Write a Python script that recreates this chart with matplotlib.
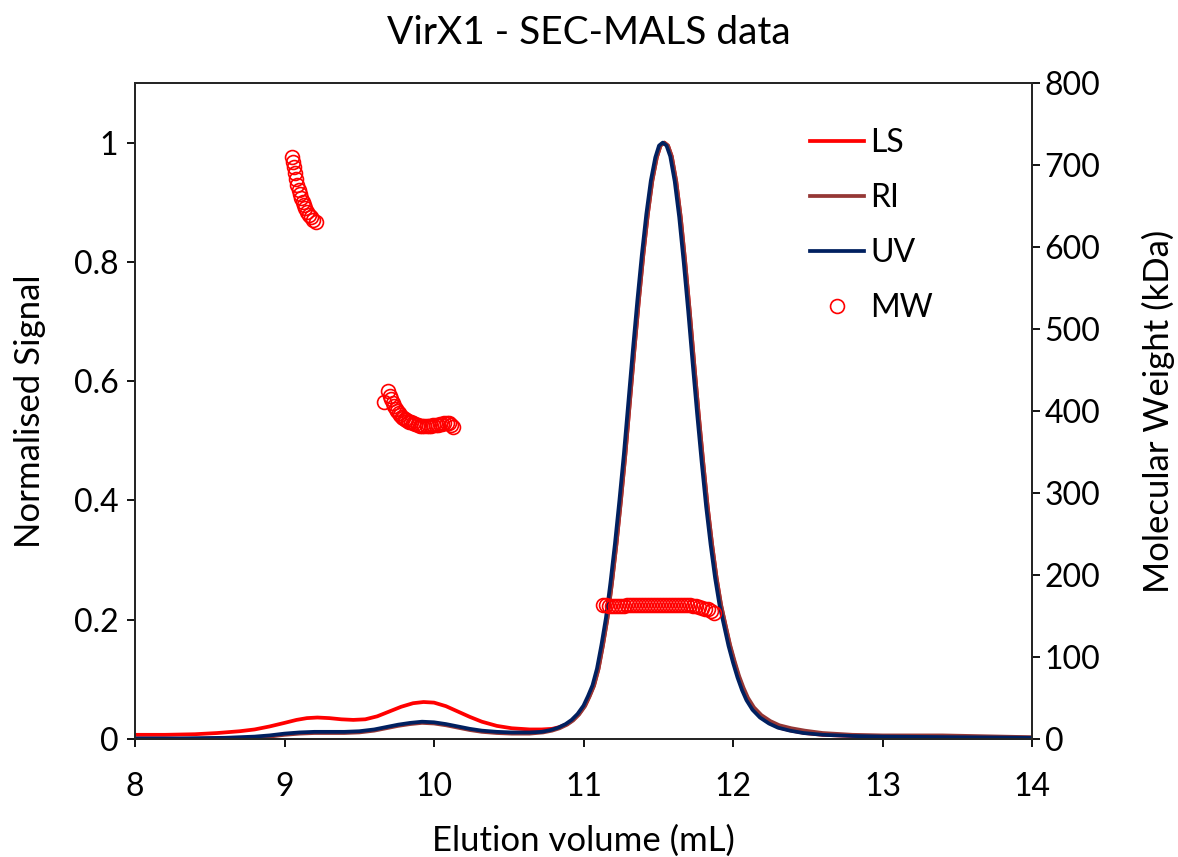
import matplotlib
matplotlib.use('Agg')
import matplotlib.pyplot as plt
from matplotlib.ticker import FuncFormatter

plt.rcParams['font.family'] = ['Lato', 'DejaVu Sans']

# %% data
# UV trace (normalised)
uv_x = [8.0, 8.3, 8.6, 8.8, 8.9, 9.0, 9.1, 9.2, 9.3, 9.4, 9.5, 9.6, 9.68, 9.76, 9.84,
        9.92, 10.0, 10.08, 10.16, 10.24, 10.32, 10.42, 10.52, 10.64, 10.72, 10.78,
        10.83, 10.88, 10.92, 10.96, 11.0, 11.03, 11.06, 11.09, 11.12, 11.15, 11.18,
        11.21, 11.24, 11.27, 11.3, 11.33, 11.36, 11.39, 11.42, 11.45, 11.48, 11.505,
        11.53, 11.555, 11.58, 11.61, 11.64, 11.67, 11.7, 11.73, 11.76, 11.79, 11.82,
        11.85, 11.88, 11.91, 11.94, 11.97, 12.0, 12.03, 12.06, 12.09, 12.13, 12.18,
        12.24, 12.3, 12.38, 12.47, 12.6, 12.8, 13.0, 13.5, 14.0]
uv_y = [0.001, 0.001, 0.002, 0.004, 0.006, 0.009, 0.011, 0.012, 0.012, 0.012, 0.013,
        0.016, 0.020, 0.024, 0.027, 0.029, 0.028, 0.025, 0.021, 0.017, 0.014, 0.012,
        0.011, 0.011, 0.012, 0.015, 0.019, 0.025, 0.032, 0.042, 0.056, 0.072, 0.090,
        0.118, 0.158, 0.203, 0.262, 0.327, 0.400, 0.478, 0.565, 0.652, 0.735, 0.812,
        0.880, 0.936, 0.975, 0.995, 1.0, 0.995, 0.977, 0.935, 0.875, 0.800, 0.718,
        0.630, 0.545, 0.465, 0.390, 0.326, 0.270, 0.224, 0.190, 0.156, 0.128, 0.103,
        0.082, 0.065, 0.049, 0.036, 0.026, 0.019, 0.014, 0.010, 0.007, 0.005, 0.004,
        0.003, 0.002]

# RI trace (normalised)
ri_x = [8.0, 8.3, 8.6, 8.8, 8.9, 9.0, 9.1, 9.2, 9.3, 9.4, 9.5, 9.6, 9.68, 9.76, 9.84,
        9.92, 10.0, 10.08, 10.16, 10.24, 10.32, 10.42, 10.52, 10.64, 10.73, 10.79,
        10.84, 10.89, 10.93, 10.97, 11.01, 11.04, 11.07, 11.1, 11.13, 11.16, 11.19,
        11.22, 11.25, 11.28, 11.31, 11.34, 11.37, 11.4, 11.43, 11.46, 11.49, 11.515,
        11.54, 11.565, 11.59, 11.62, 11.65, 11.68, 11.71, 11.74, 11.77, 11.8, 11.83,
        11.86, 11.89, 11.92, 11.95, 11.98, 12.01, 12.04, 12.07, 12.1, 12.14, 12.19,
        12.25, 12.31, 12.39, 12.48, 12.6, 12.8, 13.0, 13.2, 13.4, 13.6, 13.8, 14.0]
ri_y = [0.000, 0.000, 0.001, 0.002, 0.004, 0.007, 0.009, 0.010, 0.010, 0.010, 0.011,
        0.014, 0.018, 0.022, 0.025, 0.027, 0.026, 0.023, 0.019, 0.015, 0.012, 0.010,
        0.009, 0.009, 0.011, 0.014, 0.018, 0.024, 0.031, 0.041, 0.055, 0.071, 0.089,
        0.117, 0.157, 0.202, 0.261, 0.326, 0.399, 0.477, 0.565, 0.652, 0.735, 0.812,
        0.880, 0.936, 0.975, 0.995, 1.0, 0.995, 0.977, 0.935, 0.875, 0.800, 0.718,
        0.630, 0.545, 0.465, 0.390, 0.326, 0.270, 0.225, 0.191, 0.158, 0.131, 0.106,
        0.086, 0.069, 0.053, 0.040, 0.030, 0.023, 0.018, 0.014, 0.010, 0.007, 0.006,
        0.006, 0.006, 0.005, 0.004, 0.003]

# LS trace (normalised)
ls_x = [8.0, 8.2, 8.4, 8.55, 8.7, 8.8, 8.9, 9.0, 9.08, 9.15, 9.22, 9.3, 9.38, 9.46,
        9.54, 9.62, 9.7, 9.78, 9.86, 9.93, 10.0, 10.08, 10.16, 10.24, 10.32, 10.42,
        10.52, 10.64, 10.72, 10.79, 10.84, 10.89, 10.93, 10.97, 11.01, 11.04, 11.07,
        11.1, 11.13, 11.16, 11.19, 11.22, 11.25, 11.28, 11.31, 11.34, 11.37, 11.4,
        11.43, 11.46, 11.49, 11.515, 11.54, 11.565, 11.59, 11.62, 11.65, 11.68, 11.71,
        11.74, 11.77, 11.8, 11.83, 11.86, 11.89, 11.92, 11.95, 11.98, 12.01, 12.04,
        12.07, 12.1, 12.14, 12.19, 12.25, 12.31, 12.39, 12.48, 12.6, 12.8, 13.0, 13.5,
        14.0]
ls_y = [0.007, 0.007, 0.008, 0.010, 0.013, 0.016, 0.021, 0.027, 0.032, 0.035, 0.036,
        0.035, 0.033, 0.032, 0.033, 0.038, 0.046, 0.054, 0.060, 0.062, 0.061, 0.055,
        0.046, 0.037, 0.029, 0.022, 0.018, 0.016, 0.016, 0.017, 0.020, 0.025, 0.032,
        0.042, 0.056, 0.072, 0.090, 0.118, 0.158, 0.203, 0.262, 0.327, 0.400, 0.478,
        0.565, 0.652, 0.735, 0.812, 0.880, 0.936, 0.975, 0.995, 1.0, 0.995, 0.977,
        0.935, 0.875, 0.800, 0.718, 0.630, 0.545, 0.465, 0.390, 0.326, 0.270, 0.224,
        0.190, 0.156, 0.128, 0.103, 0.082, 0.065, 0.049, 0.036, 0.026, 0.019, 0.014,
        0.010, 0.007, 0.005, 0.004, 0.003, 0.002]

# MW (kDa)
mw_x = [9.048, 9.055, 9.062, 9.070, 9.078, 9.086, 9.094, 9.103, 9.112, 9.121, 9.130,
        9.140, 9.150, 9.162, 9.175, 9.190, 9.209,
        9.666, 9.695, 9.705, 9.715, 9.725, 9.735, 9.745, 9.755, 9.765, 9.775, 9.785,
        9.795, 9.805, 9.815, 9.825, 9.835, 9.845, 9.86, 9.875, 9.89, 9.905, 9.92,
        9.935, 9.95, 9.965, 9.98, 9.995, 10.01, 10.025, 10.04, 10.055, 10.07, 10.085,
        10.10, 10.115, 10.125,
        11.13, 11.15, 11.17, 11.19, 11.21, 11.23, 11.25, 11.27, 11.29, 11.31, 11.33,
        11.35, 11.37, 11.39, 11.41, 11.43, 11.45, 11.47, 11.49, 11.51, 11.53, 11.55,
        11.57, 11.59, 11.61, 11.63, 11.65, 11.67, 11.69, 11.71, 11.73, 11.75, 11.77,
        11.79, 11.81, 11.83, 11.85, 11.87]
mw_y = [710, 704, 698, 690, 683, 676, 670, 665, 660, 655, 651, 647, 643, 639, 636, 633, 630,
        411, 424, 418, 414, 410, 406, 403, 400, 397, 395, 393, 391, 390, 389, 388, 387,
        386, 385, 384, 383, 382, 382, 382, 382, 382, 382, 383, 383, 383, 384, 384, 385,
        385, 385, 383, 380,
        163, 163, 162, 162, 162, 162, 162, 162, 163, 163, 163, 163, 163, 163, 163, 163,
        164, 164, 164, 164, 164, 164, 164, 164, 164, 164, 163, 163, 163, 163, 162, 162,
        161, 160, 159, 158, 156, 154]

# %%
fig = plt.figure(figsize=(11.78, 8.57), dpi=100)
ax = fig.add_axes([0.1146, 0.1377, 0.7615, 0.7655])
ax2 = ax.twinx()

lineLS, = ax.plot(ls_x, ls_y, color='#FF0000', lw=2.7, label='LS', solid_joinstyle='round')
lineRI, = ax.plot(ri_x, ri_y, color='#953735', lw=2.7, label='RI', solid_joinstyle='round')
lineUV, = ax.plot(uv_x, uv_y, color='#002060', lw=2.7, label='UV', solid_joinstyle='round')
pointMW, = ax2.plot(mw_x, mw_y, 'o', markerfacecolor='none', markeredgecolor='#FF0000',
                    markersize=10, markeredgewidth=1.2, label='MW')

ax.set_xlim(8, 14)
ax.set_ylim(0, 1.1)
ax.set_xticks(range(8, 15))
ax.set_yticks([0, 0.2, 0.4, 0.6, 0.8, 1.0])
ax.yaxis.set_major_formatter(FuncFormatter(lambda v, p: '%g' % v))
ax2.set_ylim(0, 800)
ax2.set_yticks(range(0, 801, 100))

for a in (ax, ax2):
    a.tick_params(direction='out', length=6, width=1.3, labelsize=23, colors='black')
    for s in a.spines.values():
        s.set_linewidth(1.4)
        s.set_color('#262626')
ax.tick_params(axis='x', pad=18)
ax.tick_params(axis='y', pad=6)
ax2.tick_params(axis='y', pad=3)

ax.set_xlabel('Elution volume (mL)', fontsize=25, labelpad=16)
ax.set_ylabel('Normalised Signal', fontsize=25, labelpad=20)
ax2.set_ylabel('Molecular Weight (kDa)', fontsize=25, labelpad=30)
fig.suptitle('VirX1 - SEC-MALS data', fontsize=28, x=0.5, y=0.961, va='center')

ax2.legend([lineLS, lineRI, lineUV, pointMW], ['LS', 'RI', 'UV', 'MW'],
           loc='upper left', bbox_to_anchor=(0.72, 0.975), frameon=False,
           fontsize=23, handlelength=1.7, handletextpad=0.2, labelspacing=0.78)

fig.savefig('out.png', dpi=100)
plt.close()
